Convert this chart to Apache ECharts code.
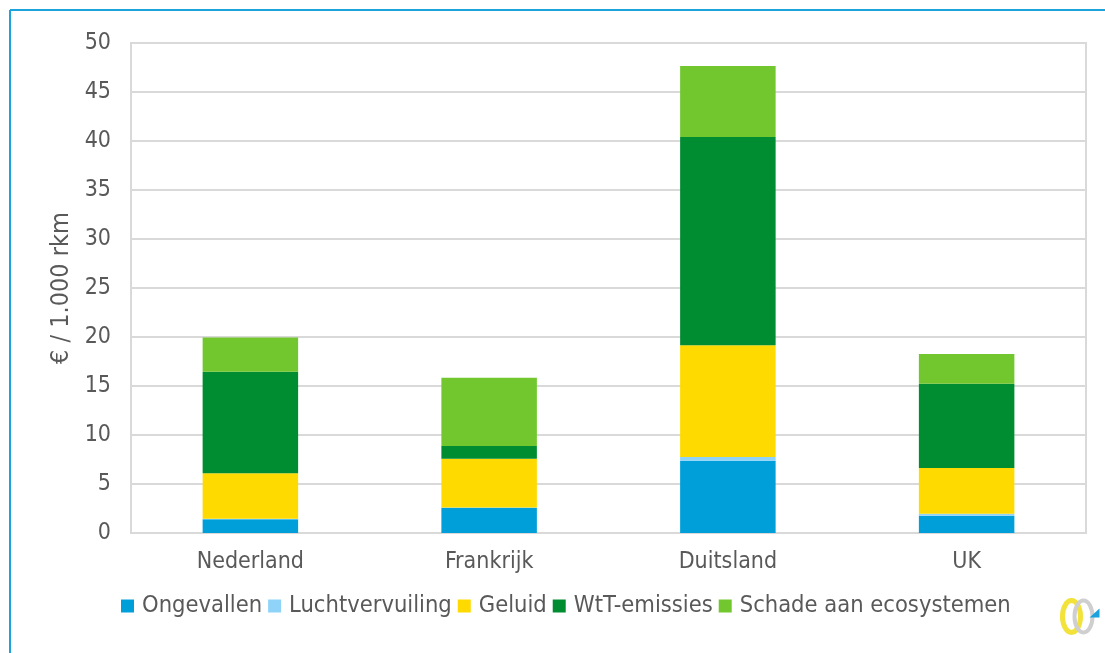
<!DOCTYPE html>
<html><head><meta charset="utf-8">
<script src="https://cdn.jsdelivr.net/npm/echarts@6/dist/echarts.min.js"></script>
<style>html,body{margin:0;padding:0;background:#fff}#c{width:1105px;height:653px}</style>
</head><body><div id="c"></div>
<script>
const categories = ['Nederland', 'Frankrijk', 'Duitsland', 'UK'];
const ongevallen = [1.40, 2.58, 7.38, 1.77];
const luchtvervuiling = [0.05, 0.03, 0.38, 0.20];
const geluid = [4.64, 4.97, 11.39, 4.66];
const wtt = [10.37, 1.30, 21.25, 8.61];
const ecosystemen = [3.50, 6.97, 7.25, 3.03];
const yTicks = [0, 5, 10, 15, 20, 25, 30, 35, 40, 45, 50];

const FONT = '"DejaVu Sans Condensed", "DejaVu Sans", sans-serif';
const TXT = '#595959';
const names = ['Ongevallen', 'Luchtvervuiling', 'Geluid', 'WtT-emissies', 'Schade aan ecosystemen'];
const colors = ['#009FDA', '#8FD3F8', '#FFDA00', '#008D32', '#72C72F'];
const data = [ongevallen, luchtvervuiling, geluid, wtt, ecosystemen];

const chart = echarts.init(document.getElementById('c'), null, {renderer: 'canvas'});
chart.setOption({
  animation: false,
  textStyle: {fontFamily: FONT},
  grid: {left: 131, right: 19, top: 43, bottom: 120, containLabel: false,
         show: true, borderColor: '#D9D9D9', borderWidth: 2, backgroundColor: 'transparent'},
  legend: {
    bottom: 30, left: 116, itemWidth: 13, itemHeight: 13, itemGap: 6,
    icon: 'rect', data: names,
    textStyle: {color: TXT, fontSize: 23.5, fontFamily: FONT, padding: [0, 0, 0, 3]}
  },
  xAxis: {
    type: 'category', data: categories,
    axisLine: {show: true, lineStyle: {color: '#D9D9D9', width: 2}},
    axisTick: {show: false},
    axisLabel: {color: TXT, fontSize: 23, margin: 18, fontFamily: FONT}
  },
  yAxis: {
    type: 'value', min: yTicks[0], max: yTicks[yTicks.length - 1], interval: 5,
    name: '€ / 1.000 rkm', nameLocation: 'middle', nameGap: 46, nameRotate: 90,
    nameTextStyle: {color: TXT, fontSize: 25, fontFamily: FONT},
    axisLine: {show: false}, axisTick: {show: false},
    axisLabel: {color: TXT, fontSize: 23, margin: 20, fontFamily: FONT},
    splitLine: {lineStyle: {color: '#D9D9D9', width: 2}}
  },
  series: data.map((d, i) => ({
    name: names[i], type: 'bar', stack: 'total', data: d,
    barWidth: '40%', itemStyle: {color: colors[i]}
  })),
  graphic: [
    {type: 'line', shape: {x1: 10, y1: 10, x2: 1105, y2: 10}, style: {stroke: '#1AA3DC', lineWidth: 2}},
    {type: 'line', shape: {x1: 10, y1: 10, x2: 10, y2: 653}, style: {stroke: '#1AA3DC', lineWidth: 2}},
    {type: 'group', left: 1060, top: 598, children: [
      {type: 'ellipse', shape: {cx: 12, cy: 17, rx: 9, ry: 16}, style: {fill: 'none', stroke: '#F2E23A', lineWidth: 5}},
      {type: 'ellipse', shape: {cx: 24, cy: 17, rx: 9, ry: 16}, style: {fill: 'none', stroke: '#CFCFCF', lineWidth: 4}},
      {type: 'polygon', shape: {points: [[30, 18], [40, 9], [40, 18]]}, style: {fill: '#1AA3DC'}}
    ]}
  ]
});
</script></body></html>
